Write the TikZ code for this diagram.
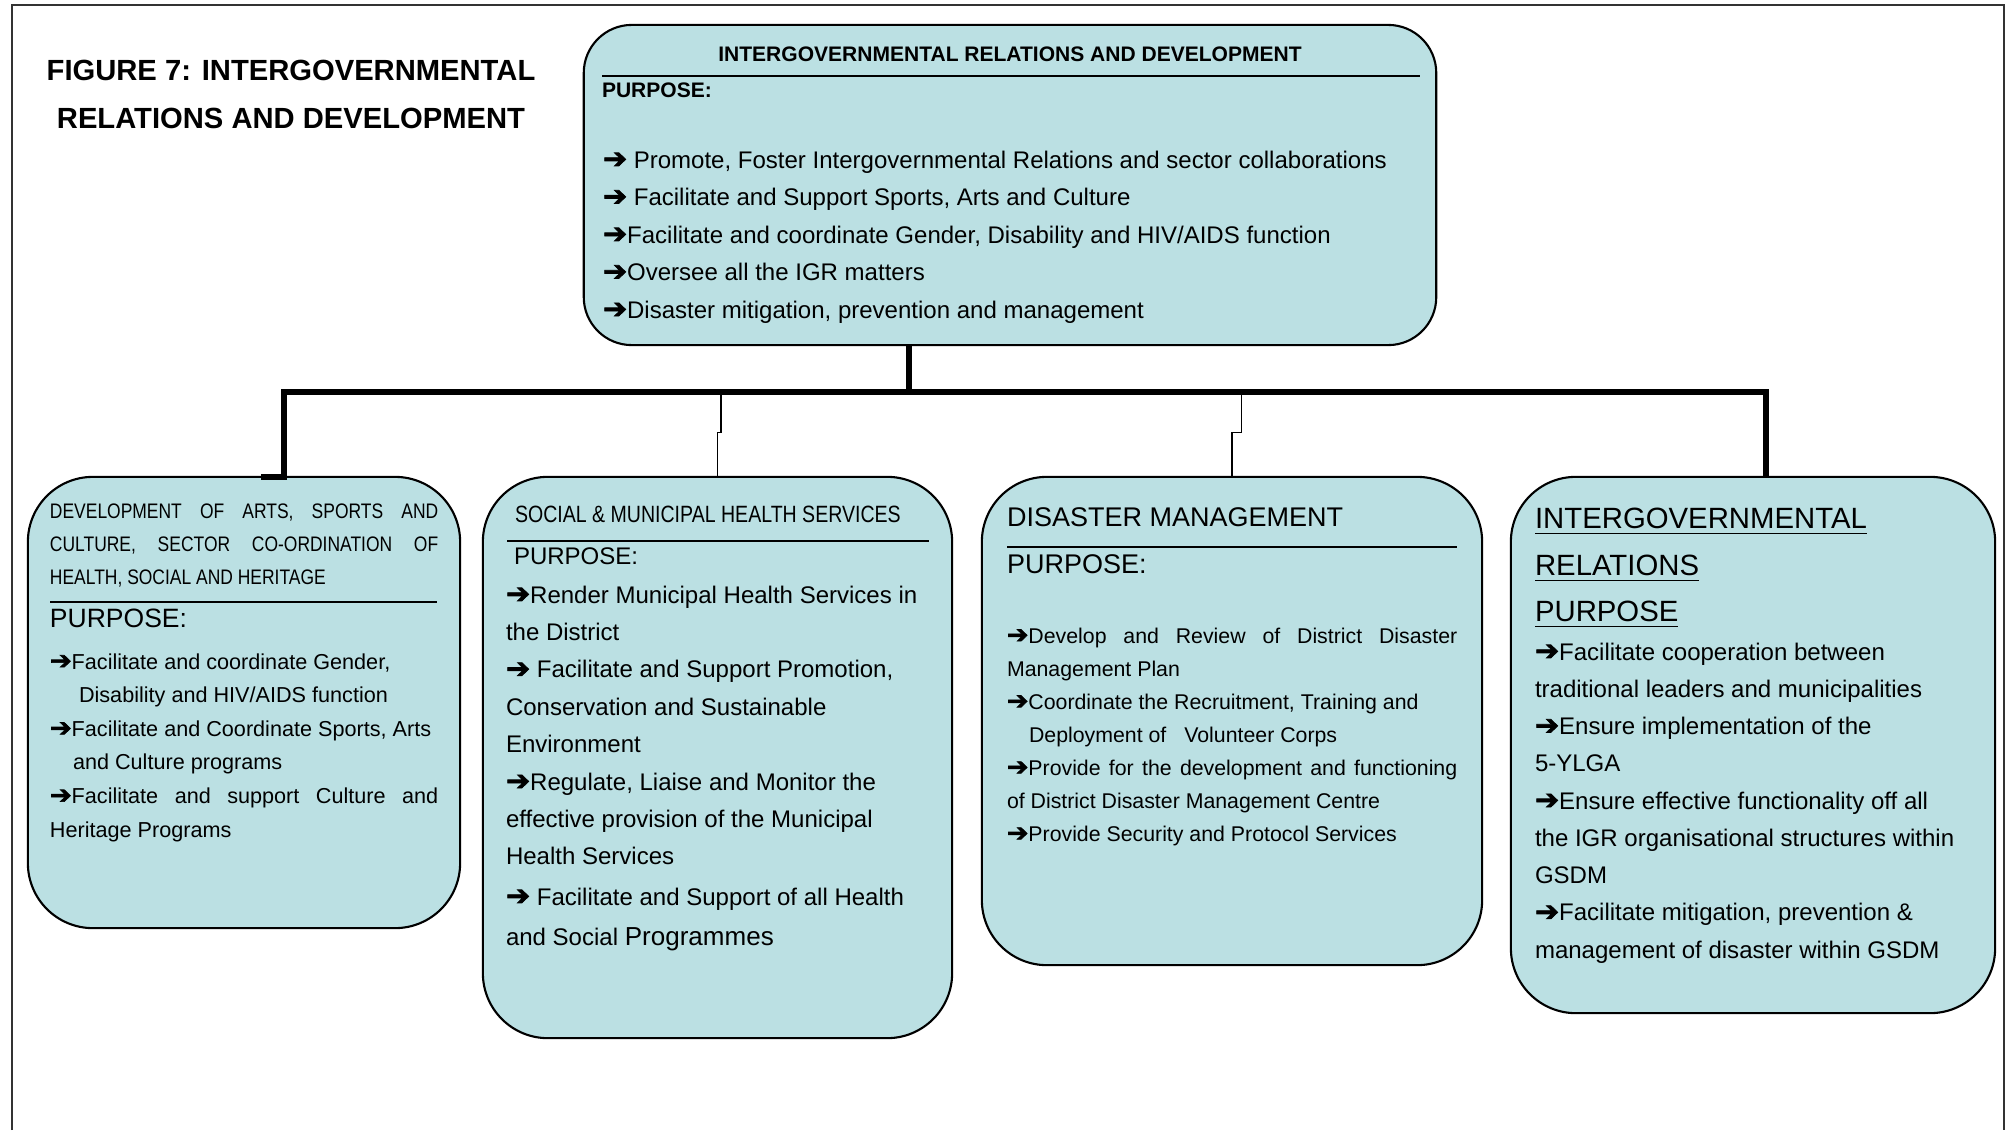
\documentclass[tikz,border=0pt]{standalone}
\usepackage{fontspec}
\setmainfont{Liberation Sans}
\newfontfamily\arrfont[FakeBold=2.5]{DejaVu Sans}
\newfontfamily\narrowfont[FakeStretch=0.83]{Liberation Sans}
\definecolor{boxfill}{RGB}{187,224,227}
\newcommand\rarr{\scalebox{1.2}[1.15]{\arrfont ➔}}
\newcommand\fsz[2]{\fontsize{#1}{#2}\selectfont}
\newcommand\lblk[1]{\vtop{\halign{##\hfil\cr#1\crcr}}}
\tikzset{
  box/.style={rectangle, rounded corners=0.65cm, fill=boxfill, draw=black, line width=0.6pt, inner sep=0pt, outer sep=0pt},
  txt/.style={inner sep=0pt, outer sep=0pt, anchor=base west},
  thickc/.style={line width=1.7pt},
  thinc/.style={line width=0.55pt},
  rulec/.style={line width=0.55pt},
  framec/.style={line width=0.5pt, draw=black!80}
}
\begin{document}
\begin{tikzpicture}[x=0.01cm,y=-0.01cm]
\useasboundingbox (0,0) rectangle (2009,1130);
\draw[framec] (12,1130) -- (12,5) -- (2004,5) -- (2004,1130);

% title
\node[txt, anchor=base, font=\bfseries\fsz{8.3}{10}] (fig1) at (291,80) {FIGURE 7: INTERGOVERNMENTAL};
\node[txt, anchor=base, font=\bfseries\fsz{8.3}{10}] (fig2) at (291,128) {RELATIONS AND DEVELOPMENT};

% boxes
\node[box, rounded corners=0.48cm, minimum width=8.52cm, minimum height=3.20cm] (top) at (1010,185) {};
\node[box, minimum width=4.32cm, minimum height=4.51cm] (b1) at (244,702.5) {};
\node[box, minimum width=4.69cm, minimum height=5.61cm] (b2) at (717.5,757.5) {};
\node[box, minimum width=5.00cm, minimum height=4.88cm] (b3) at (1232,721) {};
\node[box, minimum width=4.84cm, minimum height=5.36cm] (b4) at (1753,745) {};

% connectors
\coordinate (j) at (909,392);
\coordinate (bl) at (284,392);
\coordinate (br) at (1766,392);
\draw[thickc] (top.south -| j) -- (j);
\draw[thickc] ([xshift=-0.23cm]b1.north -| bl) -- (b1.north -| bl) -- (bl) -- (j);
\draw[thickc] (j) -- (br) -- (b4.north -| br);
\coordinate (t2) at (721,392);
\coordinate (k2) at (721,432.5);
\draw[thinc] (t2) -- (k2) -- (k2 -| b2.north) -- (b2.north);
\coordinate (t3) at (1241.5,392);
\coordinate (k3) at (1241.5,432.5);
\draw[thinc] (t3) -- (k3) -- (k3 -| b3.north) -- (b3.north);

% top box content
\node[txt, anchor=base, font=\bfseries\fsz{5.98}{7}] (toptitle) at (1010,61.5) {INTERGOVERNMENTAL RELATIONS AND DEVELOPMENT};
\draw[rulec] (602,76) -- (1420,76);
\node[txt, font=\bfseries\fsz{5.98}{7}] (toppurp) at (602,97) {PURPOSE:};
\node[txt, font=\fsz{6.83}{10.67}] (topbody) at (603,168) {\lblk{%
\rarr\ Promote, Foster Intergovernmental Relations and sector collaborations\cr
\rarr\ Facilitate and Support Sports, Arts and Culture\cr
\rarr Facilitate and coordinate Gender, Disability and HIV/AIDS function\cr
\rarr Oversee all the IGR matters\cr
\rarr Disaster mitigation, prevention and management}};

% box 1
\node[txt, font=\narrowfont\fsz{5.98}{9.39}] (b1head) at (50,518.5) {\lblk{%
\makebox[3.88cm][s]{DEVELOPMENT OF ARTS, SPORTS AND}\cr
\makebox[3.88cm][s]{CULTURE, SECTOR CO-ORDINATION OF}\cr
HEALTH, SOCIAL AND HERITAGE}};
\draw[rulec] (50,602) -- (437,602);
\node[txt, font=\fsz{7.54}{9}] (b1purp) at (50,627) {PURPOSE:};
\node[txt, font=\fsz{6.15}{9.56}] (b1body) at (50,669) {\lblk{%
\rarr Facilitate and coordinate Gender,\cr
\hspace*{0.29cm}Disability and HIV/AIDS function\cr
\rarr Facilitate and Coordinate Sports, Arts\cr
\hspace*{0.23cm}and Culture programs\cr
\makebox[3.88cm][s]{\rarr Facilitate and support Culture and}\cr
Heritage Programs}};

% box 2
\node[txt, font=\narrowfont\fsz{6.7}{8}] (b2head) at (515,522) {SOCIAL \& MUNICIPAL HEALTH SERVICES};
\draw[rulec] (507,541) -- (929,541);
\node[txt, font=\fsz{6.83}{8}] (b2purp) at (514,564.5) {PURPOSE:};
\node[txt, font=\fsz{6.83}{10.64}] (b2body) at (506,603) {\lblk{%
\rarr Render Municipal Health Services in\cr
the District\cr
\rarr\ Facilitate and Support Promotion,\cr
Conservation and Sustainable\cr
Environment\cr
\rarr Regulate, Liaise and Monitor the\cr
effective provision of the Municipal\cr
Health Services}};
\node[txt, font=\fsz{6.83}{11.4}] (b2body2) at (506,905) {\lblk{%
\rarr\ Facilitate and Support of all Health\cr
and Social {\fsz{7.4}{11.4}Programmes}}};

% box 3
\node[txt, font=\fsz{7.68}{9}] (b3head) at (1007,526) {DISASTER MANAGEMENT};
\draw[rulec] (1007,547) -- (1457,547);
\node[txt, font=\fsz{7.68}{9}] (b3purp) at (1007,573) {PURPOSE:};
\node[txt, font=\fsz{6.06}{9.39}] (b3body) at (1007,643) {\lblk{%
\makebox[4.5cm][s]{\rarr Develop and Review of District Disaster}\cr
Management Plan\cr
\rarr Coordinate the Recruitment, Training and\cr
\hspace*{0.22cm}Deployment of\hspace{0.12cm} Volunteer Corps\cr
\makebox[4.5cm][s]{\rarr Provide for the development and functioning}\cr
of District Disaster Management Centre\cr
\rarr Provide Security and Protocol Services}};

% box 4
\node[txt, font=\fsz{8.34}{13.23}] (b4head) at (1535,528.5) {\lblk{%
\underline{INTERGOVERNMENTAL}\cr
\underline{RELATIONS}\cr
\underline{PURPOSE}}};
\node[txt, font=\fsz{6.83}{10.6}] (b4body) at (1535,660) {\lblk{%
\rarr Facilitate cooperation between\cr
traditional leaders and municipalities\cr
\rarr Ensure implementation of the\cr
5-YLGA\cr
\rarr Ensure effective functionality off all\cr
the IGR organisational structures within\cr
GSDM\cr
\rarr Facilitate mitigation, prevention \&\cr
management of disaster within GSDM}};
\end{tikzpicture}
\end{document}
